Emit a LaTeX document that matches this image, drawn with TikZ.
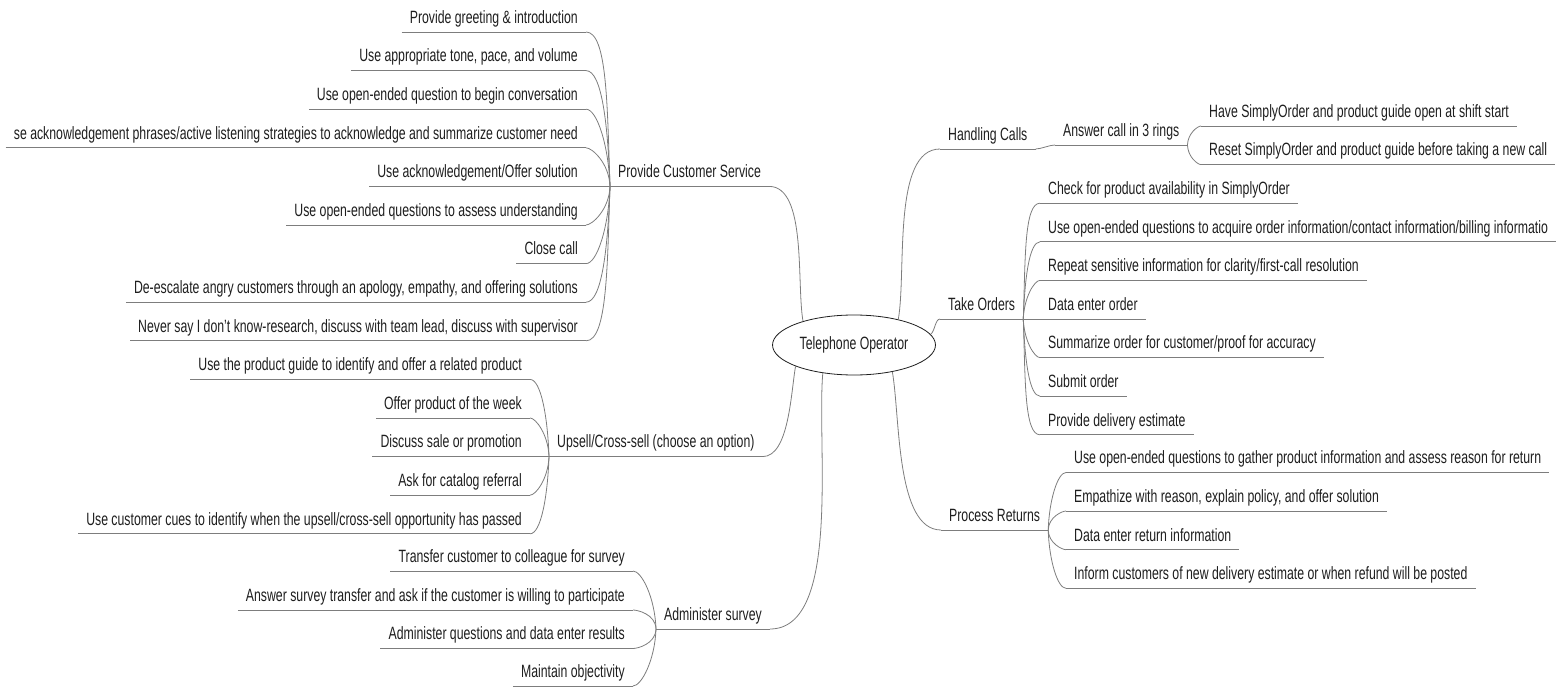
\documentclass[tikz,border=0pt]{standalone}
\usepackage{fontspec}
\setmainfont{Liberation Sans}[FakeStretch=0.69]
\usetikzlibrary{shapes.geometric}

\definecolor{twiggray}{RGB}{125,125,125}
\definecolor{inkgray}{RGB}{30,30,30}

\begin{document}
\begin{tikzpicture}[x=1pt, y=-1pt,
  font=\fontsize{17.8}{20}\selectfont,
  leaf/.style={inkgray, inner xsep=8pt, inner ysep=4.5pt, text height=13.5pt, text depth=4pt,
    append after command={(\tikzlastnode.south west) edge[twiggray, line width=0.8pt] (\tikzlastnode.south east)}},
  twig/.style={twiggray, line width=0.8pt, out looseness=1.3, in looseness=0.35},
  stem/.style={twiggray, line width=0.8pt, looseness=0.7}]

  \useasboundingbox (0,0) rectangle (1557,687);

  % centre
  \node[draw=twiggray, line width=0.8pt, ellipse, minimum width=132pt, minimum height=60pt, inkgray] (op) at (854,345) {Telephone Operator};

  % left: customer service
  \node[leaf, anchor=south west] (pcs) at (610,186.4) {Provide Customer Service};
  \node[leaf, anchor=south east] (pcs1) at (586,32) {Provide greeting \& introduction};
  \node[leaf, anchor=south east] (pcs2) at (586,70.6) {Use appropriate tone, pace, and volume};
  \node[leaf, anchor=south east] (pcs3) at (586,109.2) {Use open-ended question to begin conversation};
  \node[leaf, anchor=south east] (pcs4) at (586,147.8) {se acknowledgement phrases/active listening strategies to acknowledge and summarize customer need};
  \node[leaf, anchor=south east] (pcs5) at (586,186.4) {Use acknowledgement/Offer solution};
  \node[leaf, anchor=south east] (pcs6) at (586,225) {Use open-ended questions to assess understanding};
  \node[leaf, anchor=south east] (pcs7) at (586,263.6) {Close call};
  \node[leaf, anchor=south east] (pcs8) at (586,302.2) {De-escalate angry customers through an apology, empathy, and offering solutions};
  \node[leaf, anchor=south east] (pcs9) at (586,340.8) {Never say I don't know-research, discuss with team lead, discuss with supervisor};
  \foreach \k in {1,2,3,4}
    \draw[twig] (pcs.south west) to[out=92, in=0] (pcs\k.south east);
  \draw[twig] (pcs.south west) -- (pcs5.south east);
  \foreach \k in {6,7,8,9}
    \draw[twig] (pcs.south west) to[out=268, in=0] (pcs\k.south east);

  % left: upsell
  \node[leaf, anchor=south west] (ups) at (549,456.6) {Upsell/Cross-sell (choose an option)};
  \node[leaf, anchor=south east] (ups1) at (530,379.4) {Use the product guide to identify and offer a related product};
  \node[leaf, anchor=south east] (ups2) at (530,418) {Offer product of the week};
  \node[leaf, anchor=south east] (ups3) at (530,456.6) {Discuss sale or promotion};
  \node[leaf, anchor=south east] (ups4) at (530,495.2) {Ask for catalog referral};
  \node[leaf, anchor=south east] (ups5) at (530,533.8) {Use customer cues to identify when the upsell/cross-sell opportunity has passed};
  \foreach \k in {1,2}
    \draw[twig] (ups.south west) to[out=92, in=0] (ups\k.south east);
  \draw[twig] (ups.south west) -- (ups3.south east);
  \foreach \k in {4,5}
    \draw[twig] (ups.south west) to[out=268, in=0] (ups\k.south east);

  % left: survey
  \node[leaf, anchor=south west] (adm) at (656,629) {Administer survey};
  \node[leaf, anchor=south east] (adm1) at (633,571) {Transfer customer to colleague for survey};
  \node[leaf, anchor=south east] (adm2) at (633,610) {Answer survey transfer and ask if the customer is willing to participate};
  \node[leaf, anchor=south east] (adm3) at (633,648.5) {Administer questions and data enter results};
  \node[leaf, anchor=south east] (adm4) at (633,686) {Maintain objectivity};
  \foreach \k in {1,2}
    \draw[twig] (adm.south west) to[out=92, in=0] (adm\k.south east);
  \foreach \k in {3,4}
    \draw[twig] (adm.south west) to[out=268, in=0] (adm\k.south east);

  % right: calls
  \node[leaf, anchor=south west] (hc) at (940,149) {Handling Calls};
  \node[leaf, anchor=south west] (ac) at (1055,145) {Answer call in 3 rings};
  \node[leaf, anchor=south west] (ac1) at (1201,126) {Have SimplyOrder and product guide open at shift start};
  \node[leaf, anchor=south west] (ac2) at (1201,164.6) {Reset SimplyOrder and product guide before taking a new call};
  \draw[stem] (hc.south east) to[out=0, in=180] (ac.south west);
  \draw[twig] (ac.south east) to[out=88, in=180] (ac1.south west);
  \draw[twig] (ac.south east) to[out=272, in=180] (ac2.south west);

  % right: orders
  \node[leaf, anchor=south west] (tko) at (940,319) {Take Orders};
  \node[leaf, anchor=south west] (tko1) at (1040,203.2) {Check for product availability in SimplyOrder};
  \node[leaf, anchor=south west] (tko2) at (1040,241.8) {Use open-ended questions to acquire order information/contact information/billing informatio};
  \node[leaf, anchor=south west] (tko3) at (1040,280.4) {Repeat sensitive information for clarity/first-call resolution};
  \node[leaf, anchor=south west] (tko4) at (1040,319) {Data enter order};
  \node[leaf, anchor=south west] (tko5) at (1040,357.6) {Summarize order for customer/proof for accuracy};
  \node[leaf, anchor=south west] (tko6) at (1040,396.2) {Submit order};
  \node[leaf, anchor=south west] (tko7) at (1040,434.8) {Provide delivery estimate};
  \foreach \k in {1,2,3}
    \draw[twig] (tko.south east) to[out=88, in=180] (tko\k.south west);
  \draw[twig] (tko.south east) -- (tko4.south west);
  \foreach \k in {5,6,7}
    \draw[twig] (tko.south east) to[out=272, in=180] (tko\k.south west);

  % right: returns
  \node[leaf, anchor=south west] (prr) at (941,530) {Process Returns};
  \node[leaf, anchor=south west] (prr1) at (1066,472.5) {Use open-ended questions to gather product information and assess reason for return};
  \node[leaf, anchor=south west] (prr2) at (1066,511) {Empathize with reason, explain policy, and offer solution};
  \node[leaf, anchor=south west] (prr3) at (1066,549.7) {Data enter return information};
  \node[leaf, anchor=south west] (prr4) at (1066,588.3) {Inform customers of new delivery estimate or when refund will be posted};
  \foreach \k in {1,2}
    \draw[twig] (prr.south east) to[out=88, in=180] (prr\k.south west);
  \foreach \k in {3,4}
    \draw[twig] (prr.south east) to[out=272, in=180] (prr\k.south west);

  % main branches off the centre
  \draw[stem] (op.155) to[out=100, in=0] (pcs.south east);
  \draw[stem] (op.200) to[out=260, in=0] (ups.south east);
  \draw[stem] (op.222) to[out=265, in=0] (adm.south east);
  \draw[stem] (op.30) to[out=80, in=180] (hc.south west);
  \draw[stem] (op.8) to[out=30, in=180] (tko.south west);
  \draw[stem] (op.325) to[out=280, in=180] (prr.south west);

\end{tikzpicture}
\end{document}
